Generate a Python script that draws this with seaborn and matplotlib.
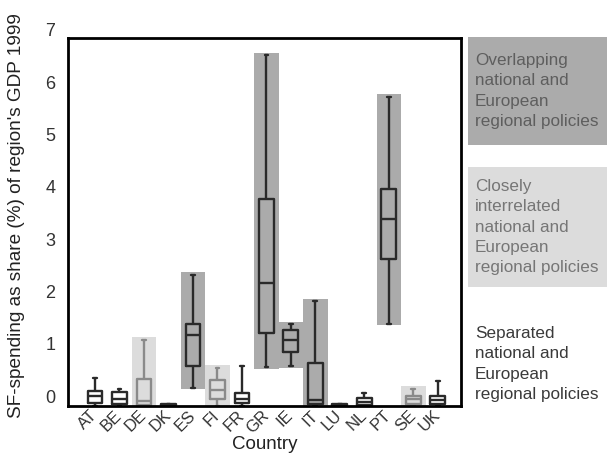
import numpy as np
import pandas as pd
import matplotlib.pyplot as plt
import matplotlib.transforms as mtransforms
from matplotlib.patches import Rectangle
import seaborn as sns

# Data: five-number summaries per country
countries = ["AT", "BE", "DE", "DK", "ES", "FI", "FR", "GR", "IE", "IT", "LU", "NL", "PT", "SE", "UK"]
low    = [0.00, 0.00, 0.00, 0.00, 0.35, 0.00, 0.00, 0.74, 0.76, 0.00, 0.00, 0.00, 1.57, 0.00, 0.00]
q1     = [0.05, 0.03, 0.01, 0.01, 0.77, 0.14, 0.05, 1.40, 1.04, 0.04, 0.01, 0.02, 2.80, 0.04, 0.04]
median = [0.20, 0.14, 0.09, 0.02, 1.36, 0.30, 0.14, 2.35, 1.27, 0.12, 0.02, 0.07, 3.57, 0.13, 0.12]
q3     = [0.28, 0.26, 0.51, 0.03, 1.56, 0.49, 0.25, 3.96, 1.46, 0.83, 0.03, 0.15, 4.15, 0.20, 0.20]
high   = [0.53, 0.33, 1.27, 0.04, 2.51, 0.73, 0.76, 6.70, 1.56, 2.00, 0.04, 0.25, 5.91, 0.33, 0.47]
group  = ["sep", "sep", "close", "sep", "over", "close", "sep", "over", "over", "over",
          "sep", "sep", "over", "close", "sep"]

legend_texts = {
    "over": "Overlapping\nnational and\nEuropean\nregional policies",
    "close": "Closely\ninterrelated\nnational and\nEuropean\nregional policies",
    "sep": "Separated\nnational and\nEuropean\nregional policies",
}

# long-form table, one row per summary value
rows = []
for i, c in enumerate(countries):
    for v in (low[i], q1[i], median[i], q3[i], high[i]):
        rows.append({"Country": c, "value": v})
df = pd.DataFrame(rows)

band_colors = {"over": "#ababab", "close": "#dcdcdc"}
line_colors = {c: ("#8a8a8a" if g == "close" else "#2a2a2a") for c, g in zip(countries, group)}

sns.set_style("white")
plt.rcParams['font.family'] = ['Liberation Sans', 'DejaVu Sans']

fig = plt.figure(figsize=(6.07, 4.54), dpi=100)
ax = fig.add_axes([0.112, 0.1057, 0.6475, 0.8103])

# grey bands behind the boxes
for i, g in enumerate(group):
    if g in band_colors:
        ax.add_patch(Rectangle((i - 0.5, low[i] - 0.03), 1.0, high[i] - low[i] + 0.08,
                               facecolor=band_colors[g], edgecolor="none", zorder=0))

sns.boxplot(data=df, x="Country", y="value", hue="Country", order=countries,
            palette=line_colors, fill=False, width=0.6, whis=(0, 100),
            linewidth=1.7, legend=False, ax=ax, capwidths=0.15)

ax.set_xlim(-1.1, 14.95)
ax.set_ylim(0, 7.03)
ax.set_yticks(range(0, 8))
ax.set_xlabel("Country", fontsize=13.5, color="#222222", va="baseline")
ax.xaxis.set_label_coords(0.5, -0.117)
ax.set_ylabel("SF-spending as share (%) of region's GDP 1999", fontsize=13.7,
              color="#222222", va="center")
ax.yaxis.set_label_coords(-0.13, 0.519)

for s in ax.spines.values():
    s.set_color("black")
    s.set_linewidth(2)

ax.tick_params(axis="y", direction="in", length=4, width=1.3, pad=9,
               labelsize=13, labelcolor="#333333")
ax.tick_params(axis="x", length=0, pad=5, labelsize=12, labelcolor="#333333")
plt.setp(ax.get_xticklabels(), rotation=45, ha="right", va="center", rotation_mode="anchor")

# labels in the original sit a bit above their ticks
shift = mtransforms.ScaledTranslation(0, 0.10, fig.dpi_scale_trans)
for lab in ax.get_yticklabels():
    lab.set_transform(lab.get_transform() + shift)

# legend panels on the right
W, H = 607, 454
panels = [("over", 37, 145, "#ababab", "#5e5e5e"),
          ("close", 167, 287, "#dcdcdc", "#767676"),
          ("sep", 318, 410, None, "#3a3a3a")]
for key, top, bot, fc, tc in panels:
    if fc is not None:
        fig.patches.append(Rectangle((468 / W, 1 - bot / H), (W - 468) / W, (bot - top) / H,
                                     transform=fig.transFigure, facecolor=fc,
                                     edgecolor="none", zorder=0))
    fig.text(475 / W, 1 - (top + bot) / 2 / H, legend_texts[key], ha="left", va="center",
             fontsize=12.3, color=tc, linespacing=1.42)

fig.savefig("out.png", dpi=100)
